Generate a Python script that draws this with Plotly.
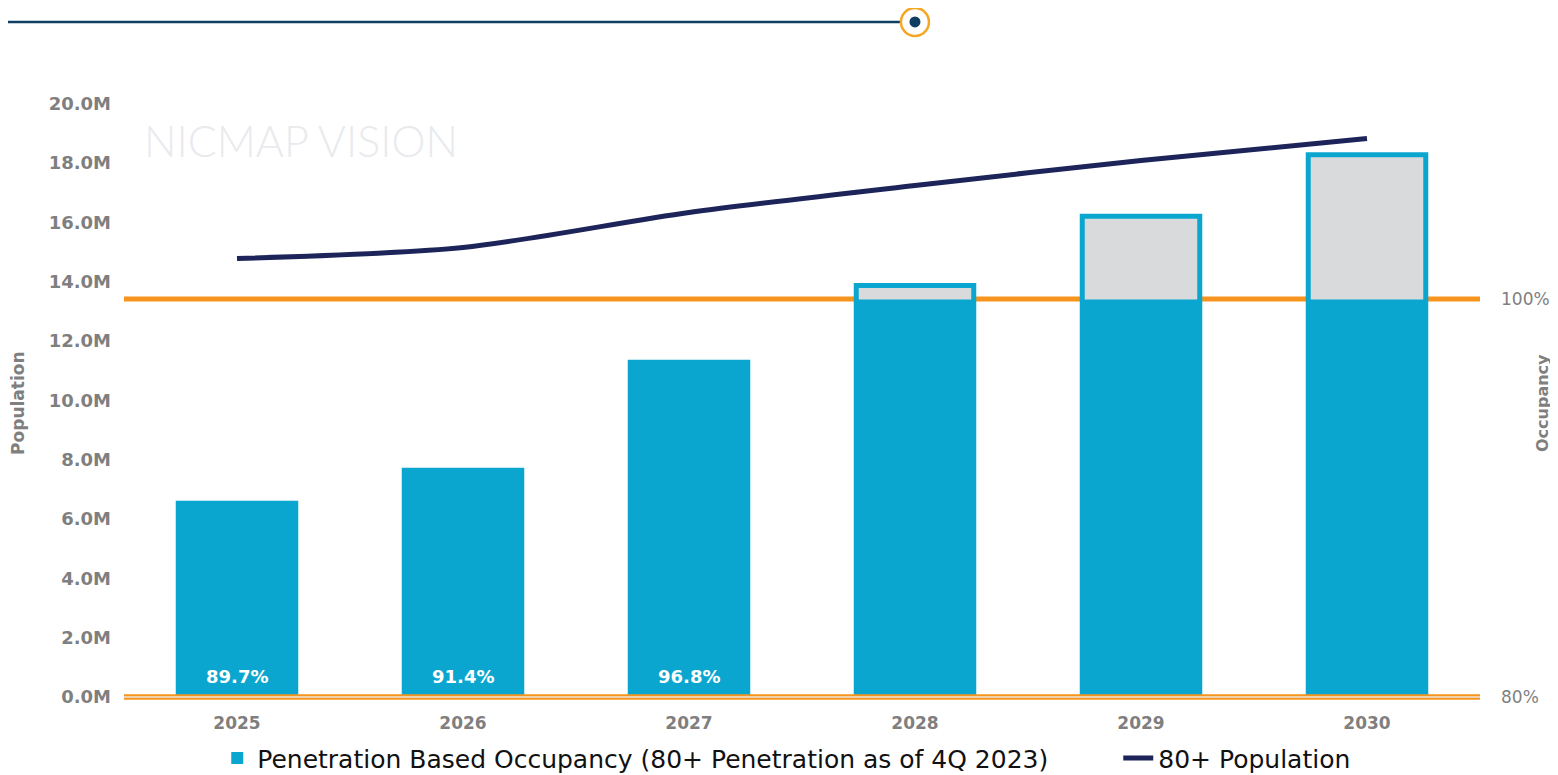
import plotly.graph_objects as go

# ---- data ----
years = ["2025", "2026", "2027", "2028", "2029", "2030"]
occupancy_demand_m = [6.53, 7.64, 11.28, 13.87, 16.20, 18.28]   # bars, millions
population_80_m = [14.78, 15.15, 16.33, 17.24, 18.08, 18.82]     # line, millions
occupancy_pct_labels = ["89.7%", "91.4%", "96.8%", "", "", ""]
full_occupancy_m = 13.40   # level of 100% occupancy on population axis
y_ticks = [0, 2, 4, 6, 8, 10, 12, 14, 16, 18, 20]
y_tick_text = [f"{v:.1f}M" for v in y_ticks]
occ_ticks = [80, 100]
occ_tick_text = ["80%", "100%"]

BLUE = "#0BA6CF"
NAVY = "#1D2459"
ORANGE = "#F7941D"
GRAY_FILL = "#D9DADC"
TICK_GRAY = "#7F7F7F"
FONT = "DejaVu Sans"

capped = [min(v, full_occupancy_m) for v in occupancy_demand_m]

fig = go.Figure()

# full bar (gray with blue outline; visible above 100%)
fig.add_trace(go.Bar(
    x=years, y=occupancy_demand_m, width=0.52,
    marker=dict(color=GRAY_FILL, line=dict(color=BLUE, width=5)),
    showlegend=False, hoverinfo="skip",
))
# blue portion up to 100%
fig.add_trace(go.Bar(
    x=years, y=capped, width=0.52,
    marker=dict(color=BLUE, line=dict(width=0)),
    name="Penetration Based Occupancy (80+ Penetration as of 4Q 2023)",
    legendwidth=856,
))
# 80+ population line
fig.add_trace(go.Scatter(
    x=years, y=population_80_m, mode="lines",
    line=dict(color=NAVY, width=5, shape="spline", smoothing=0.8),
    name="80+ Population",
))
# invisible trace to activate occupancy axis
fig.add_trace(go.Scatter(
    x=years, y=[None] * len(years), yaxis="y2", showlegend=False, hoverinfo="skip",
))

shapes = [
    # 100% occupancy line
    dict(type="line", xref="paper", yref="y2", x0=0, x1=1, y0=100, y1=100,
         line=dict(color=ORANGE, width=5), layer="below"),
    # baseline (80%) double line
    dict(type="line", xref="paper", yref="paper", x0=0, x1=1, y0=0, y1=0,
         line=dict(color=ORANGE, width=5.5), layer="above"),
    dict(type="line", xref="paper", yref="paper", x0=0, x1=1, y0=0, y1=0,
         line=dict(color="#EFE6DC", width=1.5), layer="above"),
    # top decoration
    dict(type="line", xref="paper", yref="paper", x0=-0.09, x1=0.576, y0=1.1364, y1=1.1364,
         line=dict(color="#0E3F63", width=2.5)),
    dict(type="circle", xref="paper", yref="paper", xsizemode="pixel", ysizemode="pixel",
         xanchor=0.5833, yanchor=1.1364, x0=-14, x1=14, y0=-14, y1=14,
         line=dict(color="#F5A623", width=2.5), fillcolor="white"),
    dict(type="circle", xref="paper", yref="paper", xsizemode="pixel", ysizemode="pixel",
         xanchor=0.5833, yanchor=1.1364, x0=-5.5, x1=5.5, y0=-5.5, y1=5.5,
         line=dict(color="#0E3F63", width=0), fillcolor="#0E3F63"),
]

annotations = [
    dict(text="NICMAP VISION", xref="paper", yref="paper", x=0.0133, y=0.9377,
         xanchor="left", yanchor="middle", showarrow=False,
         font=dict(size=43, color="#E9EAEE", family="Lato", weight=300)),
    dict(text="<b>Population</b>", xref="paper", yref="paper", x=-0.0782, y=0.495,
         xanchor="center", yanchor="middle", showarrow=False, textangle=-90,
         font=dict(size=17, color=TICK_GRAY, family=FONT)),
    dict(text="<b>Occupancy</b>", xref="paper", yref="paper", x=1.0465, y=0.495,
         xanchor="center", yanchor="middle", showarrow=False, textangle=-90,
         font=dict(size=16, color=TICK_GRAY, family=FONT)),
]
# occupancy % labels at the base of the bars (category index on x)
for i, lab in enumerate(occupancy_pct_labels):
    if lab:
        annotations.append(dict(
            text=lab, x=i, y=0, xref="x", yref="y", yanchor="bottom", yshift=8,
            showarrow=False, font=dict(color="white", size=18, family=FONT, weight="bold"),
        ))

# page body has an 8px margin, so the figure is 8px smaller and margins shifted
fig.update_layout(
    width=1550, height=767,
    margin=dict(l=116, r=78, t=95, b=78, autoexpand=False),
    paper_bgcolor="white", plot_bgcolor="white",
    barmode="overlay",
    font=dict(family=FONT, color=TICK_GRAY),
    shapes=shapes,
    annotations=annotations,
    xaxis=dict(
        type="category", categoryorder="array", categoryarray=years,
        range=[-0.5, len(years) - 0.5],
        showgrid=False, showline=False, ticks="",
        tickfont=dict(size=17, color=TICK_GRAY, family=FONT, weight="bold"),
        ticklabelstandoff=14, automargin=False,
    ),
    yaxis=dict(
        range=[0, 20.02], tickvals=y_ticks, ticktext=y_tick_text,
        showgrid=False, zeroline=False, showline=False, ticks="",
        tickfont=dict(size=18, color=TICK_GRAY, family=FONT, weight="bold"),
        ticklabelstandoff=12, automargin=False,
    ),
    yaxis2=dict(
        overlaying="y", side="right", range=[80, 109.85],
        tickvals=occ_ticks, ticktext=occ_tick_text,
        showgrid=False, zeroline=False, showline=False, ticks="",
        tickfont=dict(size=17, color=TICK_GRAY, family=FONT),
        ticklabelstandoff=20, automargin=False,
    ),
    legend=dict(
        orientation="h", xref="container", yref="container",
        x=0.135, xanchor="left", y=0.022, yanchor="middle",
        font=dict(size=25, color="#111111", family=FONT),
        itemwidth=30, traceorder="normal", bgcolor="rgba(0,0,0,0)",
    ),
)

fig.write_html("out.html")
